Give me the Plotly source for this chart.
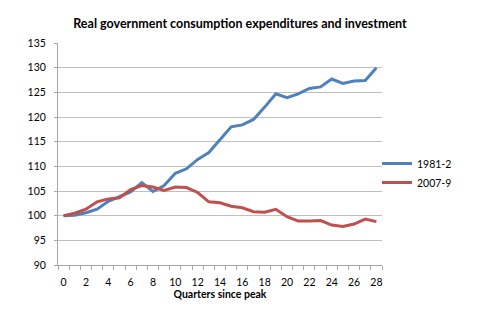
import plotly.graph_objects as go

quarters = list(range(29))
recovery_1981 = [100.0, 100.1, 100.6, 101.3, 102.9, 103.9, 104.8, 106.7, 104.9, 106.1,
                 108.6, 109.5, 111.4, 112.8, 115.3, 118.0, 118.4, 119.5, 122.0, 124.7,
                 123.9, 124.7, 125.8, 126.1, 127.7, 126.8, 127.3, 127.4, 130.0]
recovery_2007 = [100.0, 100.5, 101.3, 102.8, 103.4, 103.6, 105.3, 106.1, 105.8, 105.1,
                 105.8, 105.7, 104.7, 102.8, 102.6, 101.9, 101.6, 100.8, 100.7, 101.3,
                 99.8, 98.9, 98.9, 99.0, 98.1, 97.8, 98.3, 99.3, 98.8]
series_names = ["1981-2", "2007-9"]
series_colors = ["#4F81BD", "#C0504D"]
y_ticks = list(range(90, 136, 5))
x_ticks = list(range(0, 29, 2))

FONT = "Lato, 'Open Sans', sans-serif"

fig = go.Figure()
for name, vals, col in zip(series_names, [recovery_1981, recovery_2007], series_colors):
    fig.add_trace(go.Scatter(x=quarters, y=vals, mode="lines", name=name,
                             line=dict(color=col, width=3)))

fig.update_layout(
    width=480, height=330,
    margin=dict(l=58, r=98, t=43, b=65),
    paper_bgcolor="white", plot_bgcolor="white",
    font=dict(family=FONT, size=10.5, color="#000000"),
    title=dict(text="<b>Real government consumption expenditures and investment</b>",
               x=0.5, xanchor="center", y=1 - 24 / 330, yanchor="middle",
               font=dict(family=FONT, size=12.5, color="#000000")),
    legend=dict(x=(377 - 58) / 324, xanchor="left", y=1 - (173 - 43) / 222,
                yanchor="middle",
                font=dict(family=FONT, size=10.5), bgcolor="rgba(0,0,0,0)",
                tracegroupgap=0),
    showlegend=True,
)
fig.update_xaxes(
    range=[-0.5, 28.5], tickmode="array", tickvals=x_ticks,
    ticks="", showgrid=False, zeroline=False,
    showline=True, linecolor="#a6a6a6", linewidth=1,
    ticklabelstandoff=7,
    minor=dict(tick0=-0.5, dtick=1, ticks="outside", ticklen=4,
               tickcolor="#a6a6a6", tickwidth=1, showgrid=False),
    title=dict(text="<b>Quarters since peak</b>", font=dict(family=FONT, size=10.5),
               standoff=4),
)
fig.update_yaxes(
    range=[90, 135], tickmode="array", tickvals=y_ticks,
    ticks="outside", ticklen=3, tickcolor="#a6a6a6",
    showgrid=True, gridcolor="#bfbfbf", gridwidth=1, zeroline=False,
    showline=True, linecolor="#a6a6a6", linewidth=1,
    ticklabelstandoff=6,
)

fig.write_html("out.html")
